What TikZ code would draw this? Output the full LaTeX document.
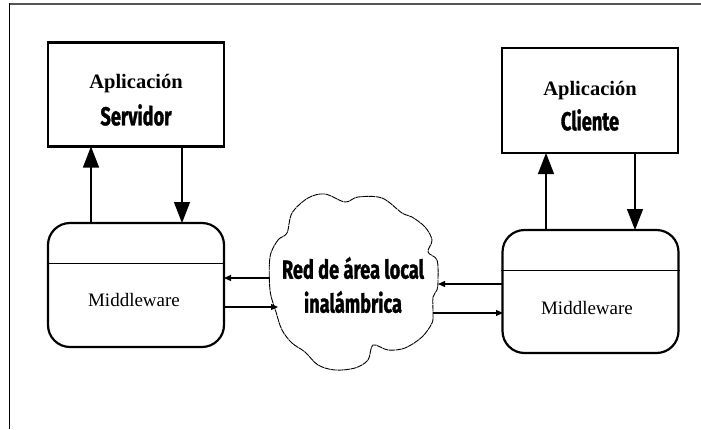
\documentclass[tikz,border=0pt]{standalone}
\usepackage{fontspec}
\setmainfont{Liberation Serif}
\newfontfamily\condfont[FakeStretch=0.70,FakeBold=1.2]{Fira Sans}
\usetikzlibrary{arrows.meta}
\begin{document}
\begin{tikzpicture}[x=1pt,y=-1pt,
  appbox/.style={draw,line width=2.2pt,minimum width=176pt,minimum height=104pt,inner sep=0pt},
  mwbox/.style={draw,line width=2.2pt,rounded corners=22pt,minimum width=176pt,minimum height=124pt,inner sep=0pt},
  bigarrow/.style={line width=1.2pt,-{Triangle[width=16pt,length=21pt]}},
  smallarrow/.style={line width=1.2pt,-{Triangle[width=6pt,length=7pt]}},
  serifbold/.style={font=\fontsize{20.5}{23}\selectfont\bfseries},
  condbold/.style={font=\fontsize{26}{28}\condfont\bfseries},
  mwtext/.style={font=\fontsize{19}{21}\selectfont}]
\useasboundingbox (0,0) rectangle (701,429);
\fill[white] (0,0) rectangle (701,429);
% frame
\draw[line width=2pt,color={rgb,255:red,85;green,85;blue,85}] (9,4) -- (701,4);
\draw[line width=1.6pt] (9.5,3) -- (9.5,429);

% application boxes
\node[appbox] (srv) at (136,94.5) {};
\node[serifbold] at (136,84) {Aplicación};
\node[condbold] at (136,115) {Servidor};

\node[appbox,minimum height=105pt] (cli) at (590,100.5) {};
\node[serifbold] at (590,91) {Aplicación};
\node[condbold] at (590,120) {Cliente};

% middleware boxes
\node[mwbox] (mwl) at (136,285) {};
\draw[line width=1pt] (mwl.west |- 0,263) -- (mwl.east |- 0,263);
\node[mwtext] at (134,300) {Middleware};

\node[mwbox,minimum height=123pt] (mwr) at (590.5,291.5) {};
\draw[line width=1pt] (mwr.west |- 0,270) -- (mwr.east |- 0,270);
\node[mwtext] at (587,308) {Middleware};

% wireless network cloud
\draw[line width=0.9pt,dash pattern=on 6pt off 0.6pt] plot[smooth cycle,tension=0.55] coordinates {
  (270,257) (278,240) (287,233) (292,213) (308,198) (325,194) (345,202)
  (358,197) (382,198) (402,213) (412,217) (425,227) (432,240) (428,252)
  (437,260) (438,280) (437,290) (433,297) (433,313) (432,323) (422,337)
  (405,348) (388,350) (373,345) (368,360) (355,368) (335,370) (318,365)
  (305,352) (292,343) (282,330) (276,312) (270,290)};
\node[condbold,align=center] (nettext) at (353,285) {Red de área local\\[6pt]inalámbrica};

% vertical arrows
\draw[bigarrow] (91,223) -- (91,146.5);
\draw[bigarrow] (182,146.5) -- (182,223);
\draw[bigarrow] (546,230) -- (546,153);
\draw[bigarrow] (635,153) -- (635,230);

% horizontal arrows
\draw[smallarrow] (270,278) -- (224,278);
\draw[smallarrow] (224,307) -- (278,307);
\draw[smallarrow] (503,284) -- (438,284);
\draw[smallarrow] (433,313) -- (503,313);
\end{tikzpicture}
\end{document}
